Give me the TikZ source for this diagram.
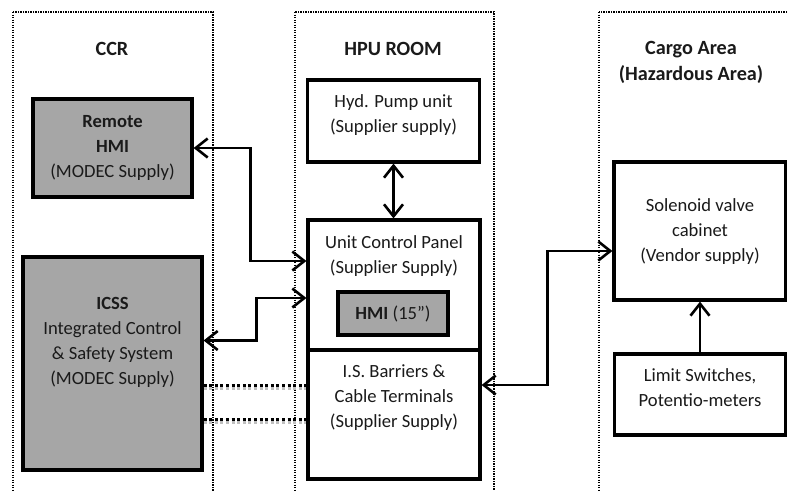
\documentclass[tikz,border=0pt]{standalone}
\usepackage{fontspec}
\setmainfont{Carlito}
\usetikzlibrary{arrows.meta}
\definecolor{boxgray}{HTML}{A6A6A6}
\definecolor{txt}{HTML}{1A1A1A}
\begin{document}
\begin{tikzpicture}[x=1pt,y=-1pt,
  area/.style={draw=black,line width=1.3pt,dash pattern=on 1.3pt off 1.2pt},
  box/.style={draw=black,line width=3.2pt,fill=white,inner sep=0pt,rectangle},
  graybox/.style={box,fill=boxgray},
  lbl/.style={align=center,text=txt,inner sep=0pt,font=\fontsize{18.6}{25}\selectfont},
  hdr/.style={lbl,font=\fontsize{20.2}{26}\selectfont\bfseries},
  tip/.tip={Straight Barb[length=12pt,width=19pt,line width=2.6pt]},
  conn/.style={line width=2.4pt,tip-tip},
  conn1/.style={line width=2.4pt,-tip},
  dotline/.style={line width=3pt,dash pattern=on 3pt off 2.6pt},
  shadowline/.style={line width=3pt,draw=black!25,dash pattern=on 3pt off 2.6pt}
]
\useasboundingbox (0,0) rectangle (787,490);
\clip (0,0) rectangle (787,490);

% area frames
\draw[area] (13,12) rectangle (213,500);
\draw[area] (295,12) rectangle (494,500);
\draw[area] (599,12) rectangle (800,500);

% headers
\node[hdr] (hccr) at (112,49) {CCR};
\node[hdr] (hhpu) at (393,49) {HPU ROOM};
\node[hdr] (hcargo) at (691,62) {Cargo Area\\(Hazardous Area)};

% boxes
\node[graybox,minimum width=159pt,minimum height=98pt] (rhmi) at (112.5,148) {};
\node[lbl] (trhmi) at (112.5,148) {\textbf{Remote}\\\textbf{HMI}\\(MODEC Supply)};

\node[graybox,minimum width=179pt,minimum height=213pt] (icss) at (112.5,363.5) {};
\node[lbl] (ticss) at (112.5,342) {\textbf{ICSS}\\Integrated Control\\\& Safety System\\(MODEC Supply)};

\node[box,minimum width=172pt,minimum height=82pt] (hyd) at (393.5,121) {};
\node[lbl] (thyd) at (393.5,115) {Hyd. Pump unit\\(Supplier supply)};

\node[box,minimum width=172pt,minimum height=130pt] (ucp) at (394,285) {};
\node[lbl] (tucp) at (394,256) {Unit Control Panel\\(Supplier Supply)};

\node[box,minimum width=172pt,minimum height=129pt] (isb) at (394,414.5) {};
\node[lbl] (tisb) at (394,397.5) {I.S. Barriers \&\\Cable Terminals\\(Supplier Supply)};

\node[graybox,minimum width=110pt,minimum height=43pt] (hmi) at (393,313.5) {};
\node[lbl] (thmi) at (393,313.5) {\textbf{HMI} (15”)};

\node[box,minimum width=172pt,minimum height=138pt] (sol) at (700,231) {};
\node[lbl] (tsol) at (700,232) {Solenoid valve\\cabinet\\(Vendor supply)};

\node[box,minimum width=171pt,minimum height=81pt] (lim) at (700,394.5) {};
\node[lbl] (tlim) at (700,388) {Limit Switches,\\Potentio-meters};

% connectors
\draw[conn] (rhmi.east) -- ++(57,0) |- ([yshift=24pt]ucp.west);
\draw[conn] ([yshift=23pt]icss.east) -- ++(53,0) |- ([yshift=-13pt]ucp.west);
\draw[conn] (hyd.south) -- (hyd.south |- ucp.north);
\draw[conn] ([yshift=29.5pt]isb.east) -- ++(66,0) |- ([yshift=-20pt]sol.west);
\draw[conn1] (lim.north) -- (sol.south);

% dotted links
\draw[shadowline] ([yshift=-3pt]icss.east |- 0,385) -- ([yshift=-3pt]isb.west |- 0,385);
\draw[shadowline] ([yshift=-3pt]icss.east |- 0,419) -- ([yshift=-3pt]isb.west |- 0,419);
\draw[dotline] (icss.east |- 0,385) -- (isb.west |- 0,385);
\draw[dotline] (icss.east |- 0,419) -- (isb.west |- 0,419);
\end{tikzpicture}
\end{document}
